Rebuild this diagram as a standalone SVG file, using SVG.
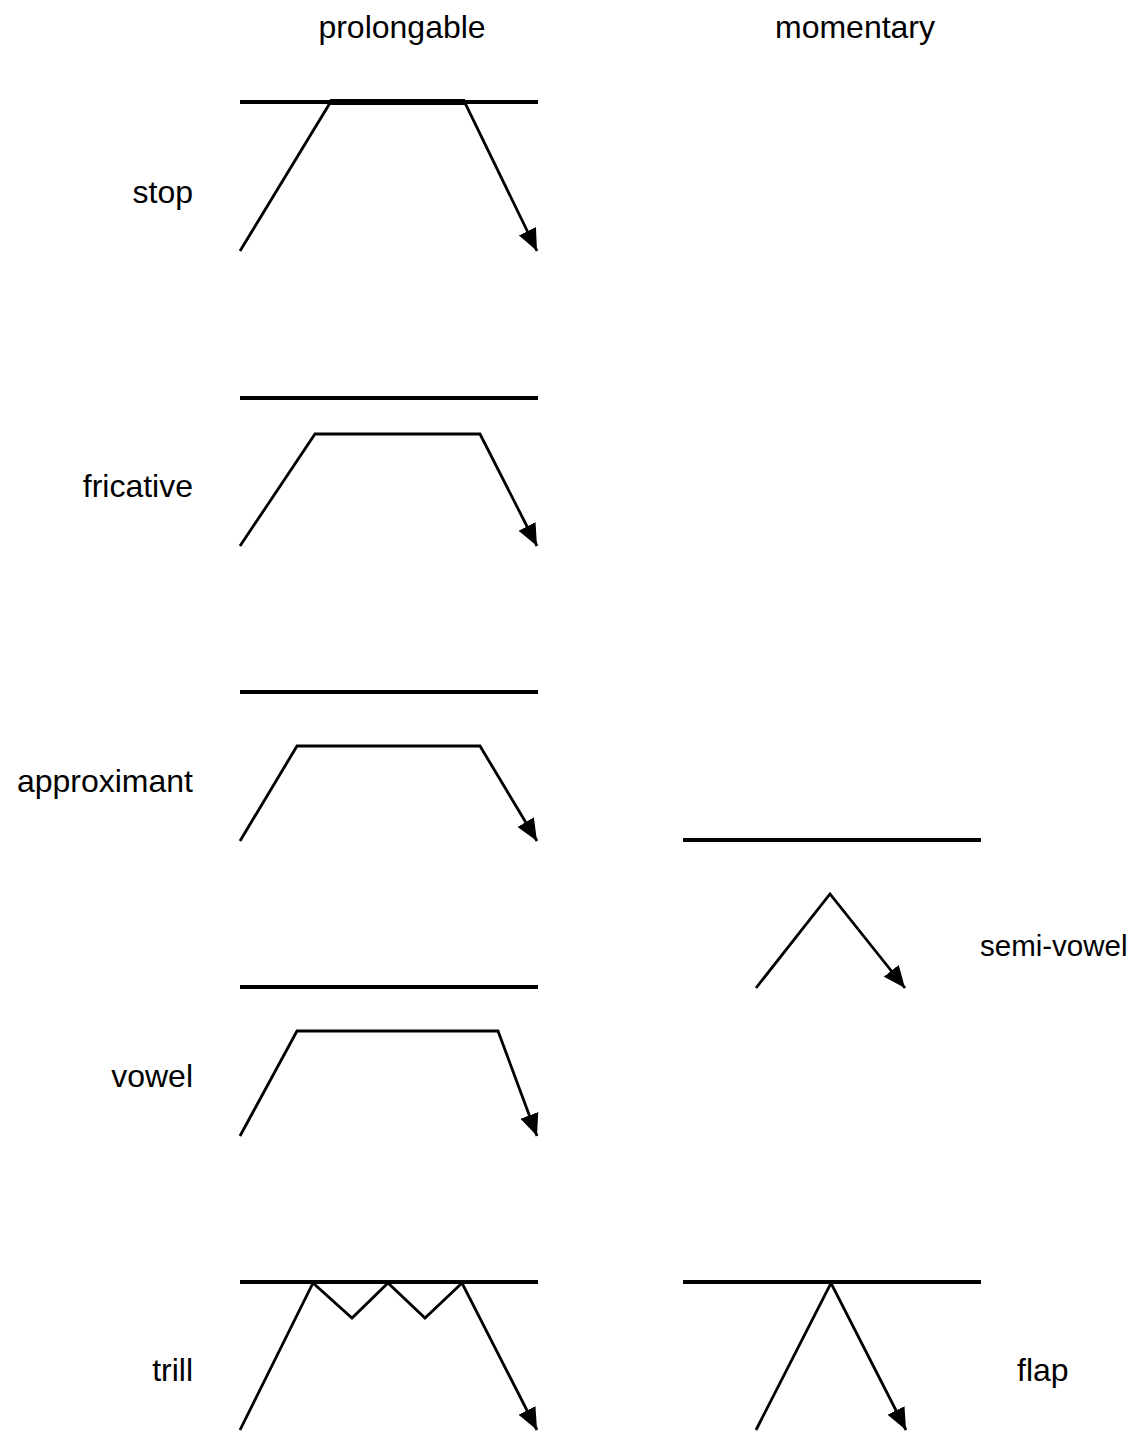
<svg xmlns="http://www.w3.org/2000/svg" width="1136" height="1433" viewBox="0 0 1136 1433">
<style>
text{font-family:"Liberation Sans",Arial,sans-serif;font-size:32px;fill:#000}
.bar{stroke:#000;stroke-width:4;fill:none}
.path{stroke:#000;stroke-width:2.8;fill:none;stroke-linejoin:miter}
.r{text-anchor:end}
.m{text-anchor:middle}
</style>
<defs>
<marker id="ah" markerUnits="userSpaceOnUse" markerWidth="24" markerHeight="20" refX="22" refY="9.5" orient="auto" viewBox="0 0 24 19">
<path d="M0,0 L22,9.5 L0,19 z" fill="#000"/>
</marker>
</defs>
<rect width="1136" height="1433" fill="#fff"/>
<g id="headers">
<text x="402" y="38" class="m">prolongable</text>
<text x="855" y="38" class="m">momentary</text>
</g>
<g id="stop">
<line class="bar" x1="240" y1="102" x2="538" y2="102"/>
<line x1="330" y1="102" x2="465" y2="102" stroke="#000" stroke-width="6"/>
<text x="193" y="203" class="r">stop</text>
</g>
<g id="fricative">
<line class="bar" x1="240" y1="398" x2="538" y2="398"/>
<text x="193" y="497" class="r">fricative</text>
</g>
<g id="approximant">
<line class="bar" x1="240" y1="692" x2="538" y2="692"/>
<text x="193" y="792" class="r">approximant</text>
</g>
<g id="vowel">
<line class="bar" x1="240" y1="987" x2="538" y2="987"/>
<text x="193" y="1087" class="r">vowel</text>
</g>
<g id="trill">
<line class="bar" x1="240" y1="1282" x2="538" y2="1282"/>
<text x="193" y="1381" class="r">trill</text>
</g>
<g id="semi-vowel">
<line class="bar" x1="683" y1="840" x2="981" y2="840"/>
<text x="980" y="956" style="font-size:29.5px">semi-vowel</text>
</g>
<g id="flap">
<line class="bar" x1="683" y1="1282" x2="981" y2="1282"/>
<text x="1017" y="1381">flap</text>
</g>
<g id="connectors">
<polyline class="path" points="240,251 330,103 465,103 537,251" marker-end="url(#ah)"/>
<polyline class="path" points="240,546 315,434 480,434 537,546" marker-end="url(#ah)"/>
<polyline class="path" points="240,841 297,746 480,746 537,841" marker-end="url(#ah)"/>
<polyline class="path" points="240,1136 297,1031 498,1031 537,1136" marker-end="url(#ah)"/>
<polyline class="path" points="240,1430 313,1283 352,1318 388,1283 425,1318 462,1283 537,1430" marker-end="url(#ah)"/>
<polyline class="path" points="756,988 830,894 905,988" marker-end="url(#ah)"/>
<polyline class="path" points="756,1430 831,1283 906,1430" marker-end="url(#ah)"/>
</g>
</svg>
